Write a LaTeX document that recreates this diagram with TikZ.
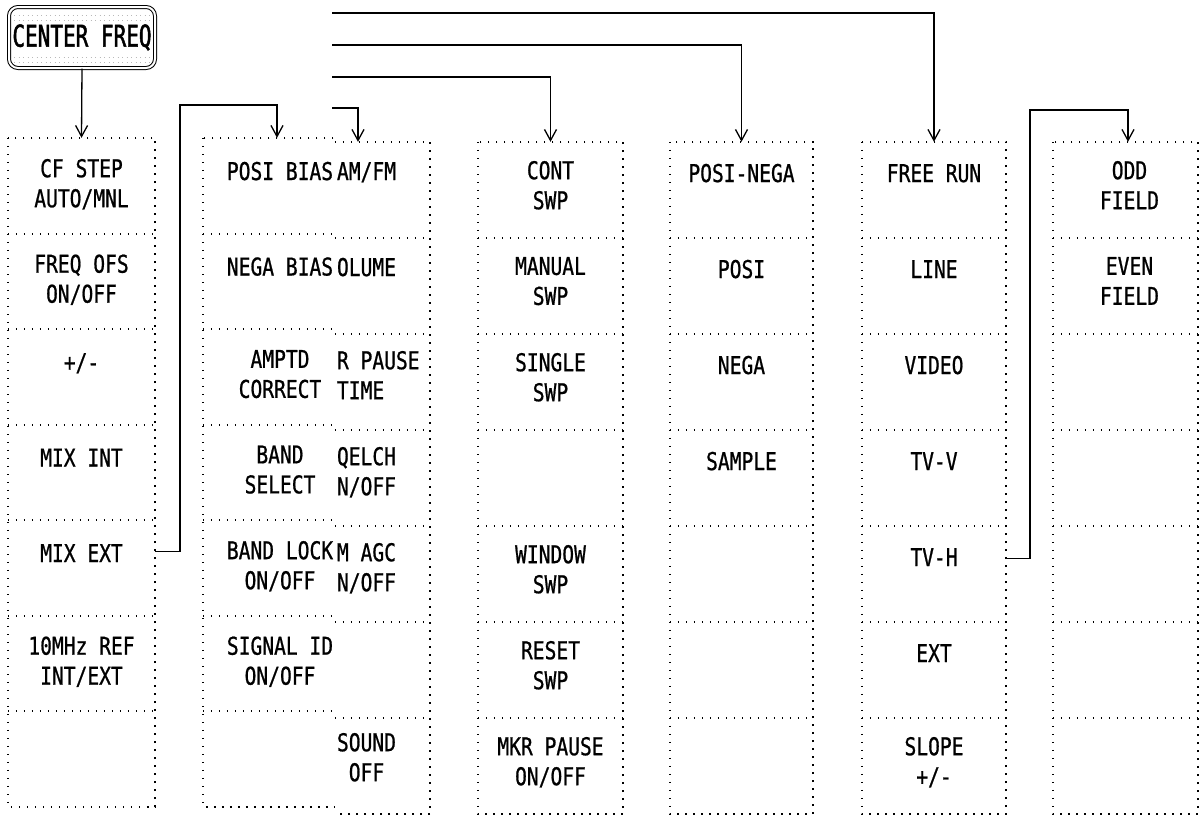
\documentclass[tikz,border=0pt]{standalone}
\usepackage{fontspec}
\setmainfont{DejaVu Sans Mono}[FakeStretch=0.8, FakeBold=0.8]
\newfontfamily\cffam{DejaVu Sans Mono}[FakeStretch=0.7, FakeBold=1.6]
\usetikzlibrary{arrows.meta}
\newcommand\cellfont{\fontsize{24.5pt}{30pt}\selectfont}
\newcommand\cffont{\cffam\fontsize{30pt}{34pt}\selectfont}
\begin{document}
\begin{tikzpicture}[x=1pt,y=-1pt,
  cell/.style={draw=none, inner sep=0pt},
  lbl/.style={anchor=north, yshift=#1, inner sep=0pt, align=center, font=\cellfont, execute at begin node=\strut},
  lbl/.default=-21pt,
  lblL/.style={anchor=north west, xshift=2pt, yshift=-17pt, inner sep=0pt, align=left, font=\cellfont, execute at begin node=\strut},
  dotl/.style={line width=1.6pt, dash pattern=on 1.6pt off 6.4pt},
  stipple/.style={gray!55, line width=0.9pt, dash pattern=on 0.9pt off 3.6pt},
  conn/.style={line width=1.3pt, -{Straight Barb[length=11pt,width=12pt]}},
  cfbox/.style={draw, double, double distance=2pt, line width=1pt, rounded corners=9pt, fill=white, minimum width=146pt, minimum height=61pt, inner sep=0pt, font=\cffont}]
\useasboundingbox (0,0) rectangle (1200,815);

% CENTER FREQ key
\node[cfbox] (cf) at (82,37.5) {};
\draw[stipple] (14,15) -- (150,15);
\draw[stipple] (14,20) -- (150,20);
\draw[stipple] (14,57) -- (150,57);
\draw[stipple] (14,62) -- (150,62);
\node[font=\cffont, inner sep=0pt] (cft) at (cf.center) {CENTER FREQ};

% column 1
\foreach \txt [count=\i] in {{CF STEP\\AUTO/MNL},{FREQ OFS\\ON/OFF},{+/-},{MIX INT},{MIX EXT},{10MHz REF\\INT/EXT},{}}
  \node[cell, minimum width=147pt, minimum height=95.5pt, label={[lbl]north:\txt}] (c1r\i) at (81.5,{138+95.5*(\i-0.5)}) {};
\draw[dotl] (c1r1.north west) rectangle (c1r7.south east);
\foreach \r in {1,...,6} \draw[dotl] (c1r\r.south west) -- (c1r\r.south east);

% column 2
\foreach \txt [count=\i] in {{POSI BIAS},{NEGA BIAS},{AMPTD\\CORRECT},{BAND\\SELECT},{BAND LOCK\\ON/OFF},{SIGNAL ID\\ON/OFF},{}}
  \node[cell, minimum width=148pt, minimum height=95.5pt, label={[lbl, xshift=3pt]north:\txt}] (c2r\i) at (277,{138+95.5*(\i-0.5)}) {};
\draw[dotl] (c2r1.north west) rectangle (c2r7.south east);
\foreach \r in {1,...,6} \draw[dotl] (c2r\r.south west) -- (c2r\r.south east);

% column 3 (lying over column 2)
\fill[white] (335,128) rectangle (433,815);
\foreach \txt [count=\i] in {{AM/FM},{OLUME},{R PAUSE\\TIME},{QELCH\\N/OFF},{M AGC\\N/OFF},{}}
  \node[cell, minimum width=95pt, minimum height=96pt, label={[lblL]north west:\txt}] (c3r\i) at (382.5,{142+96*(\i-0.5)}) {};
\node[cell, minimum width=95pt, minimum height=96pt, label={[lblL, align=center, yshift=2pt]north west:SOUND\\OFF}] (c3r7) at (382.5,{142+96*6.5}) {};
\draw[dotl] (c3r1.north west) -- (c3r1.north east) -- (c3r7.south east) -- (c3r7.south west);
\foreach \r in {1,...,6} \draw[dotl] (c3r\r.south west) -- (c3r\r.south east);

% column 4
\foreach \txt [count=\i] in {{CONT\\SWP},{MANUAL\\SWP},{SINGLE\\SWP},{},{WINDOW\\SWP},{RESET\\SWP},{MKR PAUSE\\ON/OFF}}
  \node[cell, minimum width=145pt, minimum height=96pt, label={[lbl=-19pt]north:\txt}] (c4r\i) at (550.5,{142+96*(\i-0.5)}) {};
\draw[dotl] (c4r1.north west) rectangle (c4r7.south east);
\foreach \r in {1,...,6} \draw[dotl] (c4r\r.south west) -- (c4r\r.south east);

% column 5
\foreach \txt [count=\i] in {{POSI-NEGA},{POSI},{NEGA},{SAMPLE},{},{},{}}
  \node[cell, minimum width=143pt, minimum height=96pt, label={[lbl=-19pt]north:\txt}] (c5r\i) at (741.5,{142+96*(\i-0.5)}) {};
\draw[dotl] (c5r1.north west) rectangle (c5r7.south east);
\foreach \r in {1,...,6} \draw[dotl] (c5r\r.south west) -- (c5r\r.south east);

% column 6
\foreach \txt [count=\i] in {{FREE RUN},{LINE},{VIDEO},{TV-V},{TV-H},{EXT},{SLOPE\\+/-}}
  \node[cell, minimum width=144pt, minimum height=96pt, label={[lbl=-19pt]north:\txt}] (c6r\i) at (934,{142+96*(\i-0.5)}) {};
\draw[dotl] (c6r1.north west) rectangle (c6r7.south east);
\foreach \r in {1,...,6} \draw[dotl] (c6r\r.south west) -- (c6r\r.south east);

% column 7
\foreach \txt [count=\i] in {{ODD\\FIELD},{EVEN\\FIELD},{},{},{},{},{}}
  \node[cell, minimum width=145pt, minimum height=96pt, label={[lbl=-19pt, xshift=4pt]north:\txt}] (c7r\i) at (1125.5,{142+96*(\i-0.5)}) {};
\draw[dotl] (c7r1.north west) rectangle (c7r7.south east);
\foreach \r in {1,...,6} \draw[dotl] (c7r\r.south west) -- (c7r\r.south east);

% connectors
\coordinate (s1) at (332,13);
\coordinate (s2) at (332,45);
\coordinate (s3) at (332,77);
\coordinate (s4) at (332,108);
\draw[conn] (cf.south) -- (c1r1.north);
\draw[conn] ([yshift=-32pt]c1r5.north east) -| (180,105) -| (c2r1.north);
\draw[conn] (s1) -| (c6r1.north);
\draw[conn] (s2) -| (c5r1.north);
\draw[conn] (s3) -| (c4r1.north);
\draw[conn] (s4) -| ([xshift=-24.5pt]c3r1.north);
\draw[conn] ([yshift=-33pt]c6r5.north east) -| (1030,110) -| ([xshift=2.5pt]c7r1.north);
\end{tikzpicture}
\end{document}
